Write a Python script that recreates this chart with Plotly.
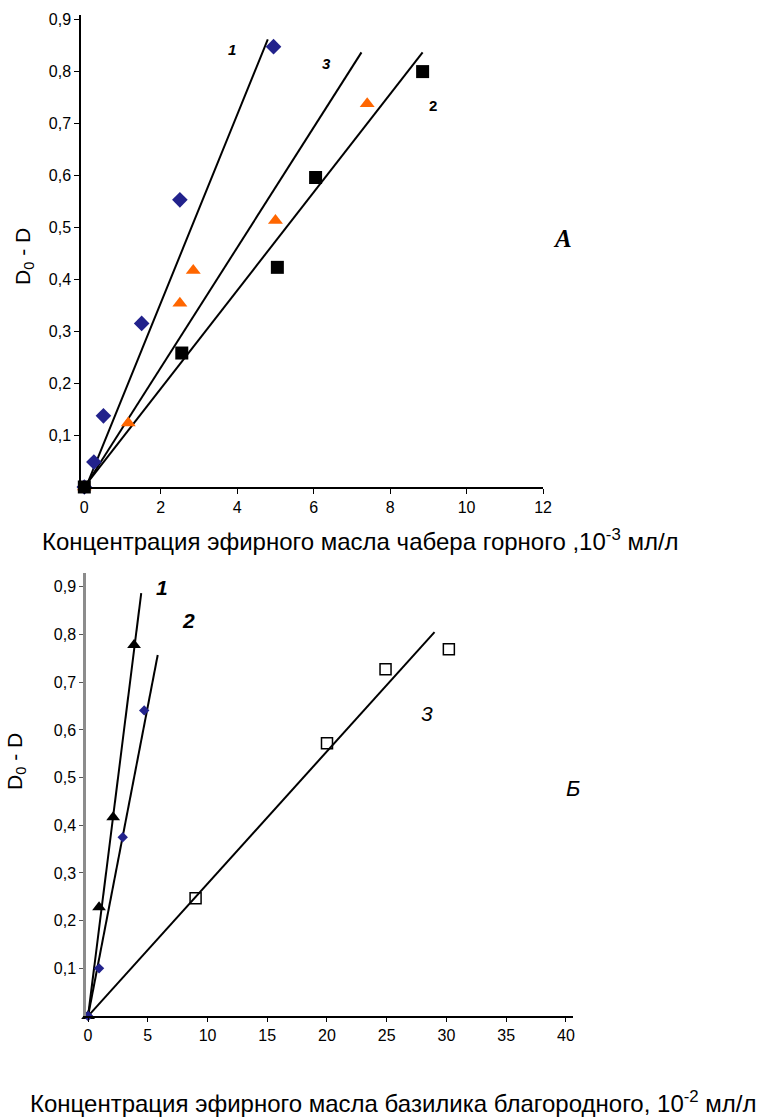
import plotly.graph_objects as go

# ---------- Panel A data (чабер горный) ----------
a1_x = [0, 0.25, 0.5, 1.5, 2.5, 4.95]
a1_y = [0, 0.048, 0.137, 0.315, 0.553, 0.848]
a3_x = [0, 1.15, 2.5, 2.85, 5.0, 7.4]
a3_y = [0, 0.123, 0.354, 0.417, 0.513, 0.738]
a2_x = [0, 2.55, 5.05, 6.05, 8.85]
a2_y = [0, 0.258, 0.423, 0.596, 0.80]
a_fit1_x, a_fit1_y = [0.1, 4.8], [0.01, 0.862]
a_fit3_x, a_fit3_y = [0.1, 7.25], [0.01, 0.837]
a_fit2_x, a_fit2_y = [0.1, 8.85], [0.01, 0.837]
a_xticks = [0, 2, 4, 6, 8, 10, 12]
a_yticks = [0.1, 0.2, 0.3, 0.4, 0.5, 0.6, 0.7, 0.8, 0.9]

# ---------- Panel Б data (базилик благородный) ----------
b1_x = [0, 0.92, 2.1, 3.85]
b1_y = [0, 0.228, 0.417, 0.778]
b2_x = [0, 0.92, 2.9, 4.7]
b2_y = [0, 0.10, 0.375, 0.641]
b3_x = [9.0, 20.0, 24.9, 30.2]
b3_y = [0.247, 0.572, 0.727, 0.769]
b_fit1_x, b_fit1_y = [0, 4.45], [0, 0.887]
b_fit2_x, b_fit2_y = [0, 5.83], [0, 0.757]
b_fit3_x, b_fit3_y = [0, 29.0], [0, 0.805]
b_xticks = [0, 5, 10, 15, 20, 25, 30, 35, 40]
b_yticks = [0.1, 0.2, 0.3, 0.4, 0.5, 0.6, 0.7, 0.8, 0.9]


def fmt(v):
    return ("%g" % v).replace(".", ",")


NAVY = "#22228C"
ORANGE = "#FF6600"
FONT = "Liberation Sans"

fig = go.Figure()

# Panel A lines
for fx, fy in [(a_fit1_x, a_fit1_y), (a_fit3_x, a_fit3_y), (a_fit2_x, a_fit2_y)]:
    fig.add_trace(go.Scatter(x=fx, y=fy, mode="lines", line=dict(color="black", width=2),
                             xaxis="x", yaxis="y", showlegend=False, hoverinfo="skip"))
fig.add_trace(go.Scatter(x=a1_x, y=a1_y, mode="markers",
                         marker=dict(symbol="diamond", size=12, color=NAVY),
                         xaxis="x", yaxis="y", showlegend=False, cliponaxis=False))
fig.add_trace(go.Scatter(x=a3_x, y=a3_y, mode="markers",
                         marker=dict(symbol="triangle-up", size=13, color=ORANGE),
                         xaxis="x", yaxis="y", showlegend=False, cliponaxis=False))
fig.add_trace(go.Scatter(x=a2_x, y=a2_y, mode="markers",
                         marker=dict(symbol="square", size=13, color="black"),
                         xaxis="x", yaxis="y", showlegend=False, cliponaxis=False))

# Panel Б lines
for fx, fy in [(b_fit1_x, b_fit1_y), (b_fit2_x, b_fit2_y), (b_fit3_x, b_fit3_y)]:
    fig.add_trace(go.Scatter(x=fx, y=fy, mode="lines", line=dict(color="black", width=2),
                             xaxis="x2", yaxis="y2", showlegend=False, hoverinfo="skip"))
fig.add_trace(go.Scatter(x=b1_x, y=b1_y, mode="markers",
                         marker=dict(symbol="triangle-up", size=12, color="black"),
                         xaxis="x2", yaxis="y2", showlegend=False, cliponaxis=False))
fig.add_trace(go.Scatter(x=b2_x, y=b2_y, mode="markers",
                         marker=dict(symbol="diamond", size=8, color=NAVY),
                         xaxis="x2", yaxis="y2", showlegend=False, cliponaxis=False))
fig.add_trace(go.Scatter(x=b3_x, y=b3_y, mode="markers",
                         marker=dict(symbol="square-open", size=11, color="black",
                                     line=dict(width=1.5)),
                         xaxis="x2", yaxis="y2", showlegend=False, cliponaxis=False))

axis_common = dict(showgrid=False, zeroline=False, showline=True, linecolor="black",
                   linewidth=1.5, ticks="outside", ticklen=5, tickcolor="black",
                   automargin=False,
                   tickfont=dict(family=FONT, size=16, color="black"))

fig.update_layout(
    width=758, height=1119,
    margin=dict(l=0, r=0, t=0, b=0, autoexpand=False),
    paper_bgcolor="white", plot_bgcolor="white",
    xaxis=dict(domain=[0.1069, 0.7164], range=[-0.086, 12], anchor="y",
               tickvals=a_xticks, ticktext=[fmt(v) for v in a_xticks], **axis_common),
    yaxis=dict(domain=[0.5648, 0.9866], range=[0, 0.909], anchor="x",
               tickvals=a_yticks, ticktext=[fmt(v) for v in a_yticks], **axis_common),
    xaxis2=dict(domain=[0.1135, 0.7559], range=[-0.17, 40.59], anchor="y2",
                tickvals=b_xticks, ticktext=[fmt(v) for v in b_xticks],
                **{**axis_common, "ticklen": 4}),
    yaxis2=dict(domain=[0.0920, 0.4879], range=[0, 0.929], anchor="x2",
                tickvals=b_yticks, ticktext=[fmt(v) for v in b_yticks],
                **{**axis_common, "linecolor": "#8C8C8C", "linewidth": 2.5,
                   "tickcolor": "#555555", "ticklen": 4}),
)

ann = []
def lab(text, x, y, size, family=FONT, **kw):
    ann.append(dict(text=text, x=x / 758, y=1 - y / 1119, xref="paper", yref="paper",
                    showarrow=False, xanchor="center", yanchor="middle",
                    font=dict(family=family, size=size, color="black"), **kw))

# Panel A labels
lab("<b><i>1</i></b>", 232, 50, 15)
lab("<b><i>3</i></b>", 326, 63, 15)
lab("<b>2</b>", 433, 106, 15)
lab("<b><i>A</i></b>", 562, 238, 25, family="Liberation Serif")
lab("D<sub>0</sub> - D", 24, 257, 21, textangle=-90)
lab("Концентрация эфирного масла чабера горного ,10<sup>-3</sup> мл/л", 360, 540, 24)

# Panel Б labels
lab("<b><i>1</i></b>", 162, 587, 21)
lab("<b><i>2</i></b>", 188, 620, 21)
lab("<i>3</i>", 427, 713, 21)
lab("<i>Б</i>", 573, 788, 22)
lab("D<sub>0</sub> - D", 16, 762, 21, textangle=-90)
lab("Концентрация эфирного масла базилика благородного, 10<sup>-2</sup> мл/л", 393, 1102, 24)

fig.update_layout(annotations=ann)
fig.write_html("out.html",
               config={"displayModeBar": False},
               post_script="document.body.style.margin='0';document.body.style.overflow='hidden';")
